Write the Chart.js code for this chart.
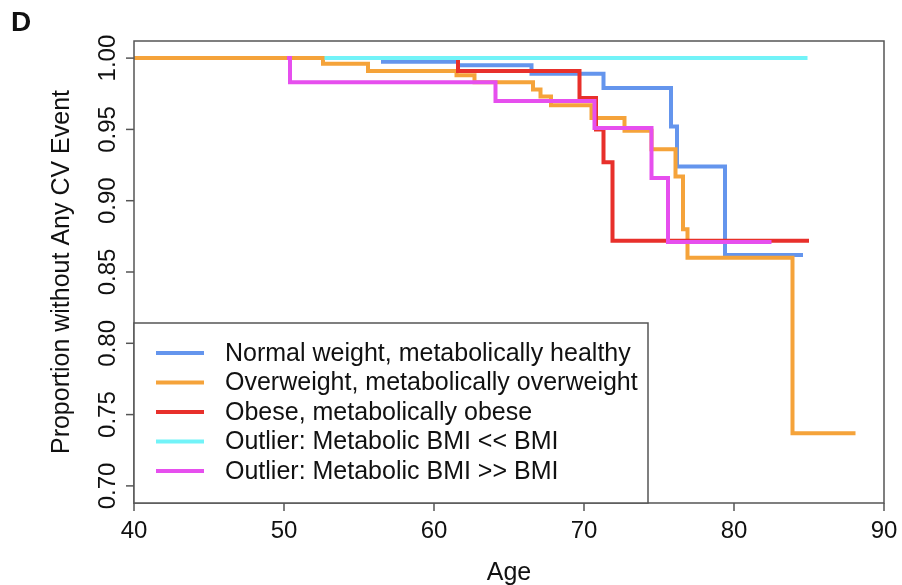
<!DOCTYPE html>
<html>
<head>
<meta charset="utf-8">
<script src="https://cdn.jsdelivr.net/npm/chart.js@4.4.1/dist/chart.umd.min.js"></script>
<style>
  html, body { margin: 0; padding: 0; background: #fff; }
  canvas { display: block; }
</style>
</head>
<body>
<canvas id="kmChart" width="902" height="585"></canvas>
<script>
// Kaplan-Meier style curves, age as the time scale
const seriesNames = [
    'Normal weight, metabolically healthy',
    'Overweight, metabolically overweight',
    'Obese, metabolically obese',
    'Outlier: Metabolic BMI << BMI',
    'Outlier: Metabolic BMI >> BMI'
];
const seriesColors = ['#6495ed', '#f5a33a', '#e8302b', '#72f3f8', '#e64fee'];

const normalAge  = [40, 56.6, 61.6, 66.5, 71.3, 75.8, 76.2, 79.4, 84.6];
const normalSurv = [1.00, 0.9975, 0.995, 0.989, 0.979, 0.952, 0.924, 0.862, 0.862];

const overAge  = [40, 52.6, 55.6, 61.5, 62.7, 66.6, 67.1, 67.8, 70.5, 72.7, 74.5, 76.1, 76.6, 76.9, 83.9, 88.1];
const overSurv = [1.00, 0.996, 0.991, 0.988, 0.983, 0.978, 0.973, 0.967, 0.958, 0.949, 0.936, 0.917, 0.880, 0.860, 0.737, 0.737];

const obeseAge  = [61.4, 61.6, 69.7, 70.8, 71.3, 71.9, 85.0];
const obeseSurv = [1.00, 0.991, 0.972, 0.950, 0.927, 0.872, 0.872];

const lowAge  = [52.7, 84.9];
const lowSurv = [1.00, 1.00];

const highAge  = [50.2, 50.4, 64.1, 70.7, 74.5, 75.6, 82.5];
const highSurv = [1.00, 0.983, 0.970, 0.951, 0.916, 0.871, 0.871];

const xTicks = [40, 50, 60, 70, 80, 90];
const yTicks = [0.70, 0.75, 0.80, 0.85, 0.90, 0.95, 1.00];

const ages = [normalAge, overAge, obeseAge, lowAge, highAge];
const survs = [normalSurv, overSurv, obeseSurv, lowSurv, highSurv];

const FONT = '"Liberation Sans", Arial, sans-serif';

function toPoints(xs, ys) {
    return xs.map((x, i) => ({ x: x, y: ys[i] }));
}

const datasets = seriesNames.map((name, i) => ({
    label: name,
    data: toPoints(ages[i], survs[i]),
    borderColor: seriesColors[i],
    borderWidth: 4,
    stepped: 'before',
    pointRadius: 0,
    fill: false,
    order: seriesNames.length - i // later groups drawn on top, like R
}));

// box, axes, titles and legend drawn like base R graphics
const axesPlugin = {
    id: 'rAxes',
    afterDraw(chart) {
        const c = chart.ctx;
        const a = chart.chartArea;
        const xs = chart.scales.x;
        const ys = chart.scales.y;
        c.save();

        // plot box
        c.strokeStyle = '#555';
        c.lineWidth = 1.5;
        c.strokeRect(a.left, a.top, a.right - a.left, a.bottom - a.top);

        c.fillStyle = '#111';
        c.font = '24px ' + FONT;

        // x axis
        c.textAlign = 'center';
        c.textBaseline = 'middle';
        xTicks.forEach(v => {
            const px = xs.getPixelForValue(v);
            c.beginPath();
            c.moveTo(px, a.bottom);
            c.lineTo(px, a.bottom + 8);
            c.stroke();
            c.fillText(String(v), px, a.bottom + 28);
        });

        // y axis, labels rotated like las=0
        yTicks.forEach(v => {
            const py = ys.getPixelForValue(v);
            c.beginPath();
            c.moveTo(a.left, py);
            c.lineTo(a.left - 8, py);
            c.stroke();
            c.save();
            c.translate(a.left - 26, py);
            c.rotate(-Math.PI / 2);
            c.fillText(v.toFixed(2), 0, 0);
            c.restore();
        });

        // axis titles
        c.font = '25px ' + FONT;
        c.fillText('Age', (a.left + a.right) / 2, a.bottom + 70);
        c.save();
        c.translate(62, (a.top + a.bottom) / 2);
        c.rotate(-Math.PI / 2);
        c.fillText('Proportion without Any CV Event', 0, 0);
        c.restore();

        // panel letter
        c.font = 'bold 28px ' + FONT;
        c.textAlign = 'left';
        c.textBaseline = 'alphabetic';
        c.fillText('D', 11, 31);

        // legend
        const lx = a.left, ly = 323, lw = 648 - a.left, lh = a.bottom - 323;
        c.fillStyle = '#fff';
        c.fillRect(lx, ly, lw, lh);
        c.strokeStyle = '#555';
        c.lineWidth = 1.5;
        c.strokeRect(lx, ly, lw, lh);
        c.font = '25px ' + FONT;
        c.textBaseline = 'middle';
        seriesNames.forEach((name, i) => {
            const ry = 353 + i * 29.5;
            c.strokeStyle = seriesColors[i];
            c.lineWidth = 4;
            c.beginPath();
            c.moveTo(156, ry);
            c.lineTo(204, ry);
            c.stroke();
            c.fillStyle = '#111';
            c.fillText(name, 225, ry + 1);
        });

        c.restore();
    }
};

new Chart(document.getElementById('kmChart').getContext('2d'), {
    type: 'line',
    data: { datasets: datasets },
    options: {
        responsive: false,
        animation: false,
        layout: { padding: { left: 134, top: 41, right: 18, bottom: 82 } },
        plugins: {
            legend: { display: false },
            tooltip: { enabled: false }
        },
        scales: {
            x: { type: 'linear', min: 40, max: 90, display: false },
            y: { type: 'linear', min: 0.688, max: 1.012, display: false }
        }
    },
    plugins: [axesPlugin]
});
</script>
</body>
</html>
